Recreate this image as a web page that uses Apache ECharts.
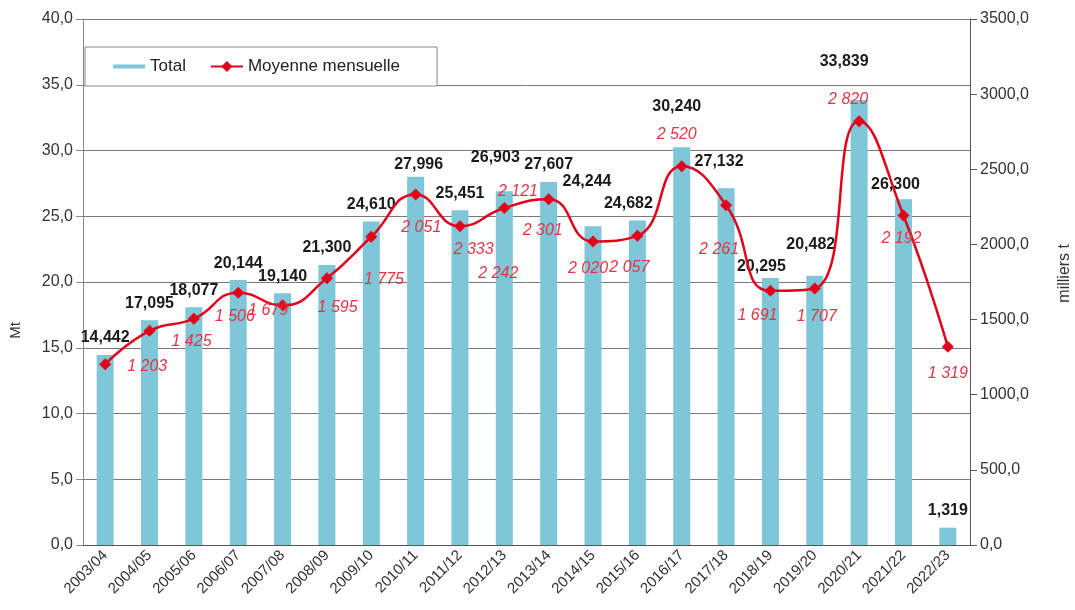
<!DOCTYPE html>
<html>
<head>
<meta charset="utf-8">
<script src="https://cdn.jsdelivr.net/npm/echarts@6/dist/echarts.min.js"></script>
<style>
  html, body { margin: 0; padding: 0; background: #fff; }
  #chart { width: 1075px; height: 610px; }
</style>
</head>
<body>
<div id="chart"></div>
<script>
// campagnes
const seasons = ['2003/04','2004/05','2005/06','2006/07','2007/08','2008/09','2009/10','2010/11',
  '2011/12','2012/13','2013/14','2014/15','2015/16','2016/17','2017/18','2018/19','2019/20',
  '2020/21','2021/22','2022/23'];
// total en Mt
const totalMt = [14.442, 17.095, 18.077, 20.144, 19.140, 21.300, 24.610, 27.996, 25.451, 26.903,
  27.607, 24.244, 24.682, 30.240, 27.132, 20.295, 20.482, 33.839, 26.300, 1.319];
// moyenne mensuelle en milliers t
const monthlyAvg = [1203, 1425, 1506, 1679, 1595, 1775, 2051, 2333, 2121, 2242,
  2301, 2020, 2057, 2520, 2261, 1691, 1707, 2820, 2192, 1319];

// décalages des étiquettes (px), comme sur le graphique Excel
const totalLabelShift = [[0,0],[0,0],[0,0],[0,0],[0,0],[0,0],[0,0],[3,5],[0,0],[-9,-17],
  [0,0],[-6,-28],[-9,0],[-5,-24],[-7,-10],[-9,5],[-4,-14],[-15,-21],[-8,2],[0,0]];
const avgLabelShift = [[42,2],[42,11],[41,-2],[30,18],[55,2],[57,1],[50,-9],[58,55],[58,-35],[-6,65],
  [-6,31],[-5,27],[-8,32],[-5,-32],[-7,44],[-13,25],[2,28],[-11,-22],[-2,23],[0,27]];

const fontFam = '"Liberation Sans", Arial, sans-serif';
const fmtMt = v => v.toFixed(3).replace('.', ',');
const fmtK = v => String(Math.round(v)).replace(/\B(?=(\d{3})+(?!\d))/g, ' ');

let chart = echarts.init(document.getElementById('chart'));

let option = {
  backgroundColor: '#fff',
  textStyle: { fontFamily: fontFam },
  animation: false,
  grid: { left: 83, right: 105, top: 19, bottom: 65 },
  legend: {
    left: 85, top: 47,
    padding: [11, 37, 11, 28],
    itemGap: 24,
    itemWidth: 32, itemHeight: 14,
    backgroundColor: '#fff',
    borderColor: '#888', borderWidth: 1,
    textStyle: { fontSize: 17, color: '#222', fontFamily: fontFam },
    data: [
      { name: 'Total', icon: 'path://M0,0 M0,5 L32,5 L32,9 L0,9 Z M32,14' },
      { name: 'Moyenne mensuelle' }
    ]
  },
  graphic: [
    { type: 'text', left: 8, top: 322, rotation: Math.PI / 2,
      style: { text: 'Mt', fontSize: 15, fill: '#333', fontFamily: fontFam } },
    { type: 'text', left: 1057, top: 244, rotation: Math.PI / 2,
      style: { text: 'milliers t', fontSize: 16, fill: '#333', fontFamily: fontFam } }
  ],
  xAxis: {
    type: 'category',
    data: seasons,
    axisLine: { lineStyle: { color: '#555' } },
    axisTick: { lineStyle: { color: '#555' }, length: 5 },
    axisLabel: { rotate: 45, fontSize: 15, color: '#333', margin: 8, interval: 0 }
  },
  yAxis: [
    {
      type: 'value', min: 0, max: 40, interval: 5,
      axisLine: { show: true, lineStyle: { color: '#888' } },
      axisTick: { show: true, length: 7, lineStyle: { color: '#888' } },
      axisLabel: { formatter: v => v.toFixed(1).replace('.', ','), fontSize: 16, color: '#333', margin: 10 },
      splitLine: { lineStyle: { color: '#7a7a7a', width: 1 } }
    },
    {
      type: 'value', min: 0, max: 3500, interval: 500,
      axisLine: { show: true, lineStyle: { color: '#555' } },
      axisTick: { show: true, length: 7, lineStyle: { color: '#555' } },
      axisLabel: { formatter: v => v.toFixed(1).replace('.', ','), fontSize: 16, color: '#333', margin: 10 },
      splitLine: { show: false }
    }
  ],
  series: [
    {
      name: 'Total',
      type: 'bar',
      barWidth: 17,
      itemStyle: { color: '#7ec6d8' },
      data: totalMt.map((v, i) => ({
        value: v,
        label: { offset: totalLabelShift[i] }
      })),
      label: {
        show: true, position: 'top', distance: 9,
        formatter: p => fmtMt(p.value),
        fontSize: 16, fontWeight: 'bold', color: '#1a1a1a'
      },
      z: 2
    },
    {
      name: 'Moyenne mensuelle',
      type: 'line',
      yAxisIndex: 1,
      smooth: 0.5,
      symbol: 'diamond',
      symbolSize: 12,
      lineStyle: { color: '#e3001b', width: 2.5 },
      itemStyle: { color: '#e3001b' },
      data: monthlyAvg.map((v, i) => ({
        value: v,
        label: { offset: avgLabelShift[i] }
      })),
      label: {
        show: true, position: 'inside',
        align: 'center', verticalAlign: 'middle',
        formatter: p => fmtK(p.value),
        fontSize: 16, fontStyle: 'italic', color: '#e23545'
      },
      z: 3
    }
  ]
};

chart.setOption(option);
</script>
</body>
</html>
